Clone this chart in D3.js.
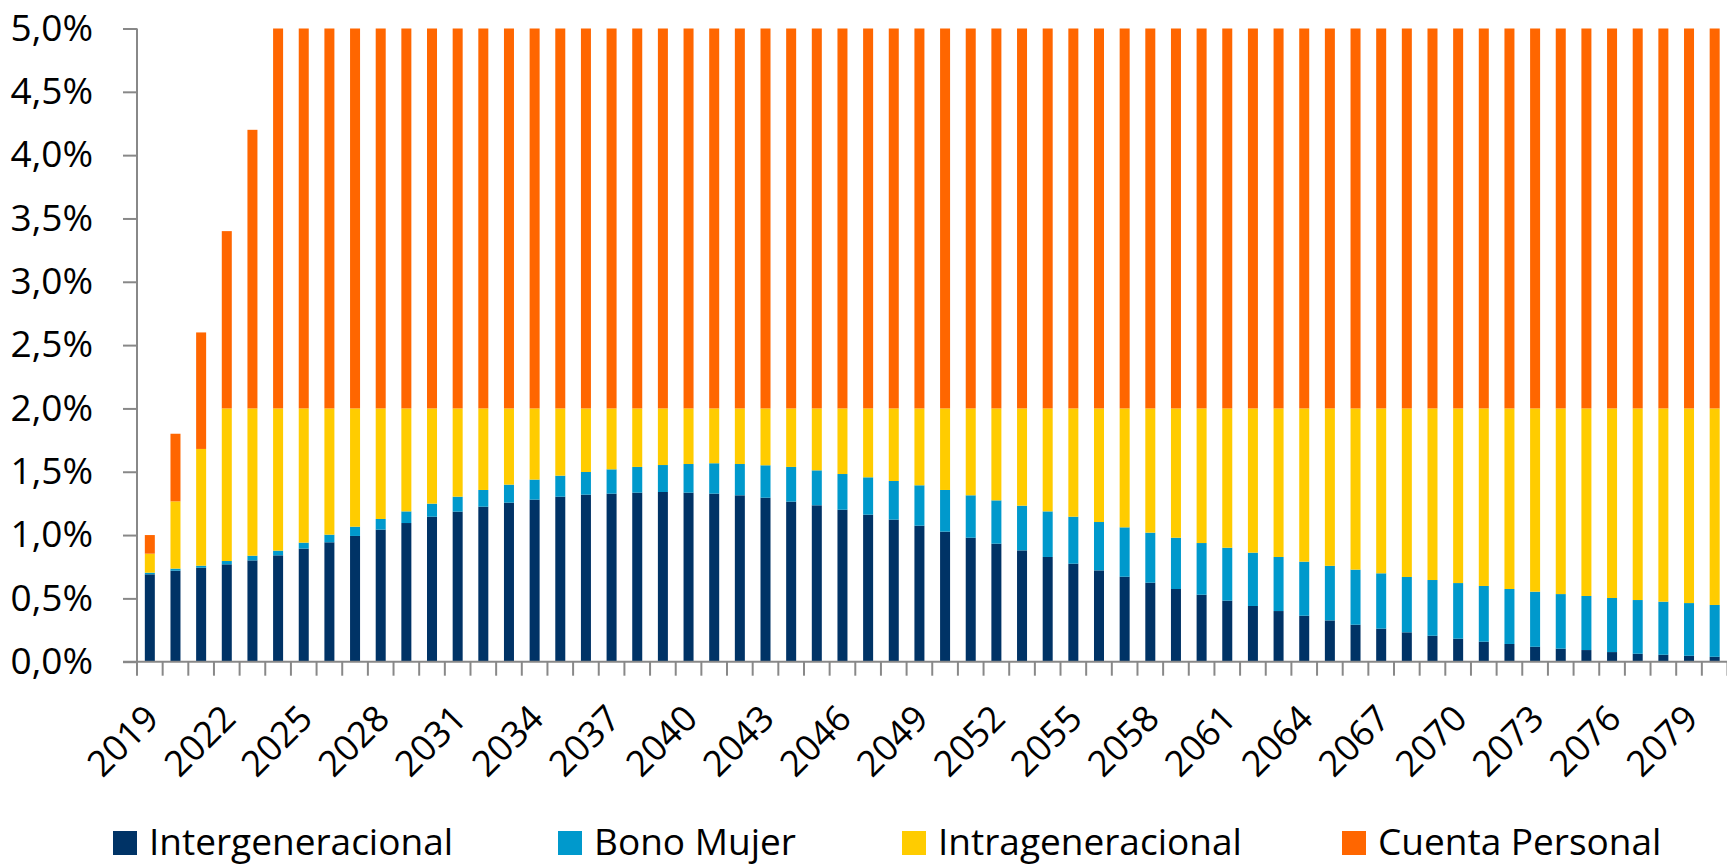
<!DOCTYPE html>
<html>
<head>
<meta charset="utf-8">
<script src="https://cdn.jsdelivr.net/npm/d3@7"></script>
<style>
  body { margin: 0; background: #fff; }
  svg { display: block; font-family: "Open Sans", "Noto Sans", sans-serif; }
  .axis-line { stroke: #888; stroke-width: 2; }
  .tick-label { fill: #000; font-size: 36px; font-family: "Open Sans", "Noto Sans", sans-serif; }
  .legend-label { fill: #000; font-size: 37px; }
</style>
</head>
<body>
<div id="chart"></div>
<script>
// Chart data (values in %)
const years = d3.range(2019, 2081);
const labelYears = years.filter((d, i) => i % 3 === 0);
const seriesNames = ["Intergeneracional", "Bono Mujer", "Intrageneracional", "Cuenta Personal"];
const seriesColors = ["#003366", "#0099cc", "#ffcc00", "#ff6600"];

const intergen = [0.69, 0.719, 0.742, 0.769, 0.80, 0.84, 0.893, 0.943, 0.993, 1.043,
    1.095, 1.145, 1.185, 1.224, 1.256, 1.28, 1.303, 1.319, 1.327, 1.335,
    1.34, 1.335, 1.327, 1.314, 1.295, 1.264, 1.235, 1.20, 1.161, 1.122,
    1.074, 1.027, 0.979, 0.932, 0.879, 0.827, 0.774, 0.721, 0.671, 0.624,
    0.574, 0.529, 0.482, 0.44, 0.40, 0.363, 0.326, 0.292, 0.261, 0.232,
    0.205, 0.182, 0.158, 0.14, 0.118, 0.103, 0.092, 0.076, 0.063, 0.055,
    0.047, 0.039];
const bonoMujer = [0.013, 0.016, 0.016, 0.026, 0.037, 0.037, 0.047, 0.06, 0.073, 0.084,
    0.092, 0.103, 0.118, 0.132, 0.142, 0.158, 0.166, 0.179, 0.192, 0.203,
    0.213, 0.226, 0.24, 0.247, 0.256, 0.274, 0.276, 0.282, 0.295, 0.305,
    0.319, 0.329, 0.335, 0.342, 0.353, 0.36, 0.371, 0.382, 0.39, 0.395,
    0.405, 0.408, 0.418, 0.421, 0.427, 0.427, 0.431, 0.435, 0.437, 0.437,
    0.44, 0.439, 0.44, 0.434, 0.435, 0.431, 0.427, 0.427, 0.424, 0.419,
    0.416, 0.409];
const intragen = [0.15, 0.531, 0.922, 1.205, 1.163, 1.123, 1.06, 0.997, 0.934, 0.873,
    0.813, 0.752, 0.697, 0.644, 0.602, 0.562, 0.531, 0.502, 0.481, 0.462,
    0.447, 0.439, 0.433, 0.439, 0.449, 0.462, 0.489, 0.518, 0.544, 0.573,
    0.607, 0.644, 0.686, 0.726, 0.768, 0.813, 0.855, 0.897, 0.939, 0.981,
    1.021, 1.063, 1.10, 1.139, 1.173, 1.21, 1.243, 1.273, 1.302, 1.331,
    1.355, 1.379, 1.402, 1.426, 1.447, 1.466, 1.481, 1.497, 1.513, 1.526,
    1.537, 1.552];
const cuentaPersonal = [0.147, 0.534, 0.92, 1.4, 2.2, 3.0, 3.0, 3.0, 3.0, 3.0,
    3.0, 3.0, 3.0, 3.0, 3.0, 3.0, 3.0, 3.0, 3.0, 3.0,
    3.0, 3.0, 3.0, 3.0, 3.0, 3.0, 3.0, 3.0, 3.0, 3.0,
    3.0, 3.0, 3.0, 3.0, 3.0, 3.0, 3.0, 3.0, 3.0, 3.0,
    3.0, 3.0, 3.0, 3.0, 3.0, 3.0, 3.0, 3.0, 3.0, 3.0,
    3.0, 3.0, 3.0, 3.0, 3.0, 3.0, 3.0, 3.0, 3.0, 3.0,
    3.0, 3.0];
const yTicks = [0, 0.5, 1, 1.5, 2, 2.5, 3, 3.5, 4, 4.5, 5];

// Build rows for d3.stack
const rows = years.map((year, i) => ({
    year,
    "Intergeneracional": intergen[i],
    "Bono Mujer": bonoMujer[i],
    "Intrageneracional": intragen[i],
    "Cuenta Personal": cuentaPersonal[i]
}));

const width = 1727;
const height = 867;
const plot = { left: 137, right: 1727.5, top: 28.5, bottom: 661.7 };

const svg = d3.select('#chart')
    .append('svg')
    .attr('width', width)
    .attr('height', height);

const x = d3.scaleBand()
    .domain(years)
    .range([plot.left, plot.right])
    .paddingInner(0.61)
    .paddingOuter(0.305);

const y = d3.scaleLinear()
    .domain([0, 5])
    .range([plot.bottom, plot.top]);

const color = d3.scaleOrdinal().domain(seriesNames).range(seriesColors);

const fmt = d3.formatLocale({ decimal: ",", thousands: ".", grouping: [3], currency: ["", ""] }).format(".1f");

// Bars
const stacked = d3.stack().keys(seriesNames)(rows);

svg.append('g')
    .selectAll('g')
    .data(stacked)
    .join('g')
    .attr('fill', d => color(d.key))
    .selectAll('rect')
    .data(d => d)
    .join('rect')
    .attr('x', d => x(d.data.year))
    .attr('width', x.bandwidth())
    .attr('y', d => y(d[1]))
    .attr('height', d => y(d[0]) - y(d[1]));

// Y axis
const yAxis = svg.append('g')
    .attr('transform', `translate(${plot.left},0)`)
    .call(d3.axisLeft(y).tickValues(yTicks).tickFormat(d => fmt(d) + '%').tickSize(14).tickPadding(30).tickSizeOuter(0));
yAxis.attr('font-family', null).attr('font-size', null);
yAxis.select('.domain').remove();
yAxis.selectAll('.tick line').attr('class', 'axis-line');
yAxis.selectAll('.tick text').attr('class', 'tick-label').style('font-size', '37px');

svg.append('line')
    .attr('class', 'axis-line')
    .attr('x1', plot.left).attr('x2', plot.left)
    .attr('y1', y(5)).attr('y2', y(0) + 14);

// X axis line and ticks between categories
svg.append('line')
    .attr('class', 'axis-line')
    .attr('x1', plot.left - 14).attr('x2', plot.right)
    .attr('y1', y(0)).attr('y2', y(0));

const step = x.step();
svg.append('g')
    .selectAll('line')
    .data(years)
    .join('line')
    .attr('class', 'axis-line')
    .attr('x1', d => x(d) + x.bandwidth() + (step - x.bandwidth()) / 2)
    .attr('x2', d => x(d) + x.bandwidth() + (step - x.bandwidth()) / 2)
    .attr('y1', y(0))
    .attr('y2', y(0) + 14);

// X labels, rotated
svg.append('g')
    .selectAll('text')
    .data(labelYears)
    .join('text')
    .attr('class', 'tick-label')
    .attr('text-anchor', 'end')
    .attr('dy', '0.35em')
    .attr('transform', d => `translate(${x(d) + x.bandwidth() / 2 + 2},${y(0) + 50}) rotate(-45)`)
    .text(d => d);

// Legend
const legendX = [113, 558, 902, 1342];
const legend = svg.append('g')
    .selectAll('g')
    .data(seriesNames)
    .join('g')
    .attr('transform', (d, i) => `translate(${legendX[i]},831)`);

legend.append('rect')
    .attr('width', 24)
    .attr('height', 24)
    .attr('fill', d => color(d));

legend.append('text')
    .attr('class', 'legend-label')
    .attr('x', 36)
    .attr('y', 24)
    .text(d => d);
</script>
</body>
</html>
